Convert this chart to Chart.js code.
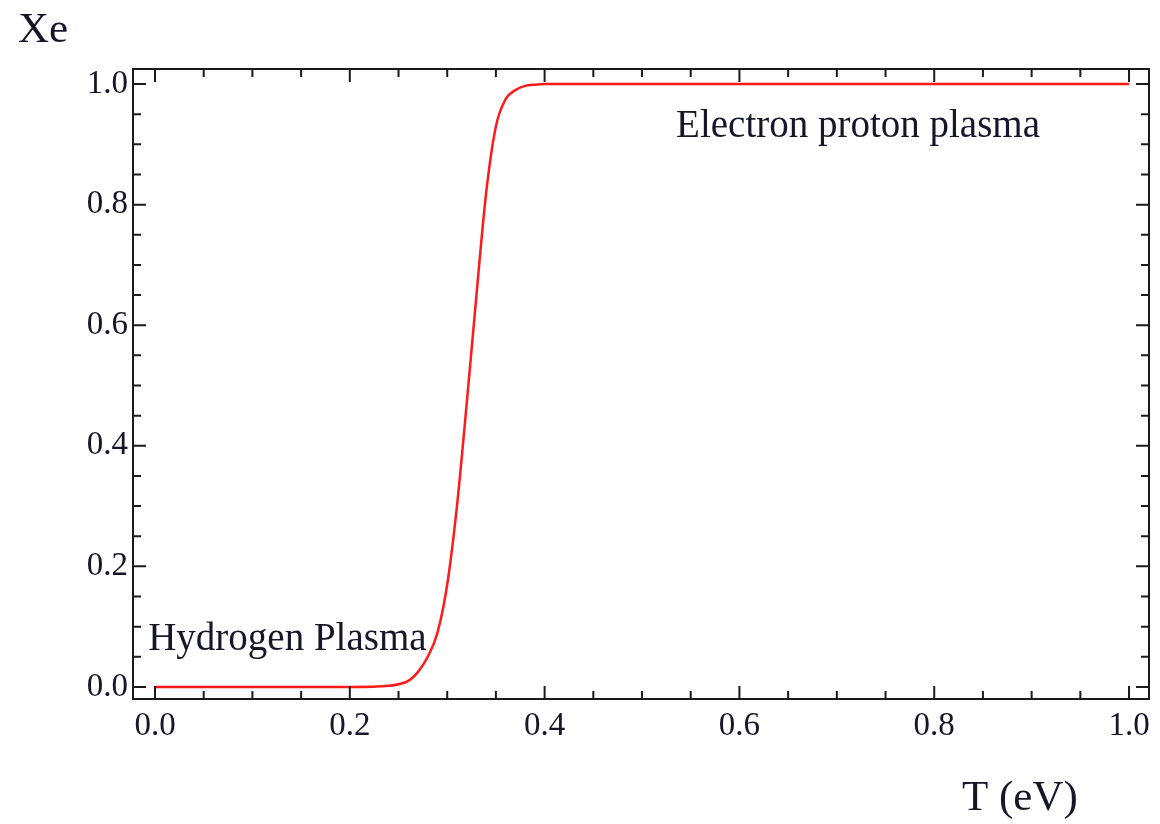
<!DOCTYPE html>
<html>
<head>
<meta charset="utf-8">
<script src="https://cdn.jsdelivr.net/npm/chart.js@4/dist/chart.umd.min.js"></script>
<style>
  body { margin: 0; background: #fff; }
  #wrap { width: 1160px; height: 824px; position: relative; }
</style>
</head>
<body>
<div id="wrap"><canvas id="xeChart"></canvas></div>
<script>
// ionization fraction
const tValues = [0, 0.10, 0.20, 0.24, 0.26, 0.27, 0.28, 0.29, 0.30, 0.31, 0.32, 0.33, 0.34, 0.35, 0.36, 0.37, 0.38, 0.39, 0.40, 0.50, 0.70, 1.00];
const xeValues = [0, 0, 0, 0.002, 0.01, 0.025, 0.05, 0.09, 0.17, 0.30, 0.47, 0.65, 0.82, 0.93, 0.975, 0.99, 0.997, 0.999, 1, 1, 1, 1];

// tick marks (majors get labels)
const xMajor = [0, 0.2, 0.4, 0.6, 0.8, 1.0];
const yMajor = [0, 0.2, 0.4, 0.6, 0.8, 1.0];
const minorTicks = [0, 0.05, 0.1, 0.15, 0.2, 0.25, 0.3, 0.35, 0.4, 0.45, 0.5, 0.55, 0.6, 0.65, 0.7, 0.75, 0.8, 0.85, 0.9, 0.95, 1.0];

// text labels inside the plot, anchored in data units
const notes = [
  { text: 'Hydrogen Plasma', x: -0.007, y: 0.061 },
  { text: 'Electron proton plasma', x: 0.535, y: 0.912 },
];

const textColor = '#16162a';
const serif = "'Liberation Serif', 'DejaVu Serif', serif";

function isMajor(list, v) {
  return list.some(m => Math.abs(m - v) < 1e-6);
}

// frame, inward ticks on all sides, notes and axis titles
const framePlugin = {
  id: 'frame',
  afterDraw(chart) {
    const { ctx, chartArea: a, scales } = chart;
    ctx.save();
    ctx.strokeStyle = '#1a1a1a';
    ctx.lineWidth = 2;
    ctx.strokeRect(a.left, a.top, a.right - a.left, a.bottom - a.top);

    ctx.beginPath();
    scales.x.ticks.forEach(t => {
      const px = scales.x.getPixelForValue(t.value);
      const len = isMajor(xMajor, t.value) ? 13 : 8;
      ctx.moveTo(px, a.bottom); ctx.lineTo(px, a.bottom - len);
      ctx.moveTo(px, a.top); ctx.lineTo(px, a.top + len);
    });
    scales.y.ticks.forEach(t => {
      const py = scales.y.getPixelForValue(t.value);
      const len = isMajor(yMajor, t.value) ? 13 : 8;
      ctx.moveTo(a.left, py); ctx.lineTo(a.left + len, py);
      ctx.moveTo(a.right, py); ctx.lineTo(a.right - len, py);
    });
    ctx.stroke();

    ctx.fillStyle = textColor;
    ctx.textBaseline = 'alphabetic';
    ctx.textAlign = 'left';
    ctx.font = '39px ' + serif;
    notes.forEach(n => {
      ctx.fillText(n.text, scales.x.getPixelForValue(n.x), scales.y.getPixelForValue(n.y));
    });

    ctx.font = '43px ' + serif;
    ctx.fillText('Xe', 18, 42);
    ctx.fillText('T (eV)', 962, 810);
    ctx.restore();
  }
};

const ctx = document.getElementById('xeChart').getContext('2d');
new Chart(ctx, {
  type: 'line',
  data: {
    datasets: [{
      data: tValues.map((t, i) => ({ x: t, y: xeValues[i] })),
      borderColor: '#ff1a1a',
      borderWidth: 2.5,
      pointRadius: 0,
      fill: false,
      cubicInterpolationMode: 'monotone',
    }],
  },
  options: {
    responsive: true,
    maintainAspectRatio: false,
    animation: false,
    layout: { padding: { top: 69, right: 11, left: 0, bottom: 0 } },
    plugins: {
      legend: { display: false },
      tooltip: { enabled: false },
    },
    scales: {
      x: {
        type: 'linear',
        min: -0.0226,
        max: 1.0205,
        grid: { display: false, drawTicks: false },
        border: { display: false },
        afterBuildTicks: s => { s.ticks = minorTicks.map(v => ({ value: v })); },
        afterFit: s => { s.height = 125; },
        ticks: {
          autoSkip: false,
          maxRotation: 0,
          padding: 8,
          color: textColor,
          font: { family: serif, size: 33 },
          callback: v => isMajor(xMajor, v) ? v.toFixed(1) : '',
        },
      },
      y: {
        type: 'linear',
        min: -0.02,
        max: 1.025,
        grid: { display: false, drawTicks: false },
        border: { display: false },
        afterBuildTicks: s => { s.ticks = minorTicks.map(v => ({ value: v })); },
        afterFit: s => { s.width = 133; },
        ticks: {
          autoSkip: false,
          padding: 5,
          color: textColor,
          font: { family: serif, size: 33 },
          callback: v => isMajor(yMajor, v) ? v.toFixed(1) : '',
        },
      },
    },
  },
  plugins: [framePlugin],
});
</script>
</body>
</html>
